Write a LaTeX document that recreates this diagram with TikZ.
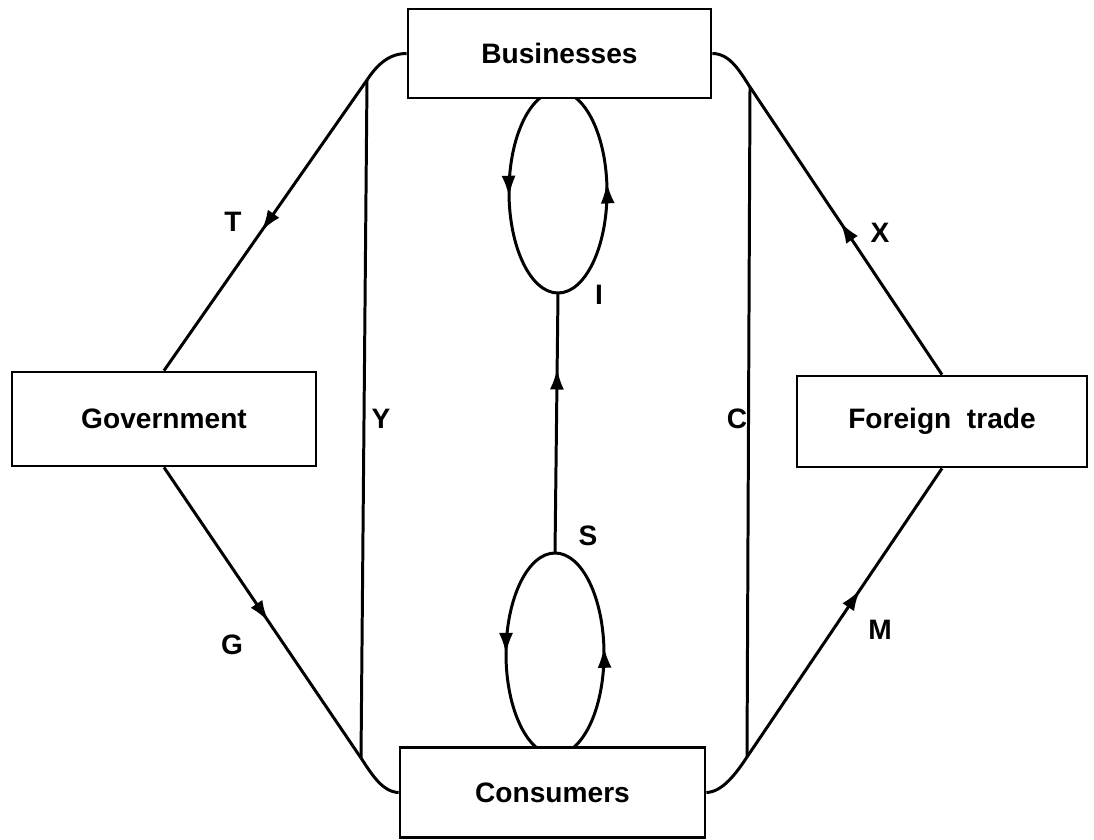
\documentclass[tikz,border=0pt]{standalone}
\usepackage{fontspec}
\setmainfont{Liberation Sans}
\usetikzlibrary{arrows.meta,decorations.markings}
\begin{document}
\begin{tikzpicture}[x=0.02cm,y=-0.02cm,
  line width=1.7pt,
  box/.style={draw,fill=white,inner sep=0pt,line width=1.6pt,font=\fontsize{16}{18}\selectfont\bfseries},
  lbl/.style={font=\fontsize{16}{18}\selectfont\bfseries,inner sep=0pt},
  midarrow/.style={postaction={decorate},decoration={markings,
     mark=at position #1 with {\arrow{Latex[length=12pt,width=8pt]}}}}]
\useasboundingbox (0,0) rectangle (1094,839);
% named points
\coordinate (tl) at (367,80);
\coordinate (tr) at (750,87);
\coordinate (bl) at (361,758);
\coordinate (br) at (747,757);
\coordinate (ei) at (558,293);
\coordinate (es) at (555,553);
% ellipses (drawn first, boxes cover their ends)
\draw[midarrow=0.52] (558,91) arc[start angle=270,end angle=90,x radius=49,y radius=101];
\draw[midarrow=0.54] (558,293) arc[start angle=90,end angle=-90,x radius=49,y radius=101];
\draw[midarrow=0.5] (555,553) arc[start angle=270,end angle=90,x radius=49,y radius=101];
\draw[midarrow=0.53] (555,755) arc[start angle=90,end angle=-90,x radius=49,y radius=101];
% nodes
\node[box,minimum width=6.06cm,minimum height=1.78cm] (bus) at (559.5,53.5) {Businesses};
\node[box,minimum width=6.08cm,minimum height=1.88cm] (gov) at (164,419) {Government};
\node[box,minimum width=5.8cm,minimum height=1.82cm] (ft) at (942,421.5) {Foreign\ \ trade};
\node[box,minimum width=6.1cm,minimum height=1.8cm] (con) at (552.5,792.5) {Consumers};
% corner curves
\draw (bus.west) .. controls +(-18,0) and (377,65) .. (tl);
\draw (bus.east) .. controls +(18,0) and (740,72) .. (tr);
\draw (bl) .. controls (371,773) and (382,792) .. (con.west);
\draw (br) .. controls (737,772) and (723,792) .. (con.east);
% verticals
\draw (tl) -- (bl);
\draw (tr) -- (br);
\draw[midarrow=0.71] (es) -- (ei);
% diagonals
\draw[midarrow=0.52] (tl) -- (gov.north);
\draw[midarrow=0.53] (gov.south) -- (bl);
\draw[midarrow=0.53] (ft.north) -- (tr);
\draw[midarrow=0.58] (br) -- (ft.south);
% labels
\node[lbl] (lT) at (233,222) {T};
\node[lbl] (lG) at (232,645) {G};
\node[lbl] (lX) at (880,233) {X};
\node[lbl] (lM) at (880,630) {M};
\node[lbl] (lY) at (381,419) {Y};
\node[lbl] (lC) at (737,419) {C};
\node[lbl] (lI) at (599,295) {I};
\node[lbl] (lS) at (588,536) {S};
\end{tikzpicture}
\end{document}
